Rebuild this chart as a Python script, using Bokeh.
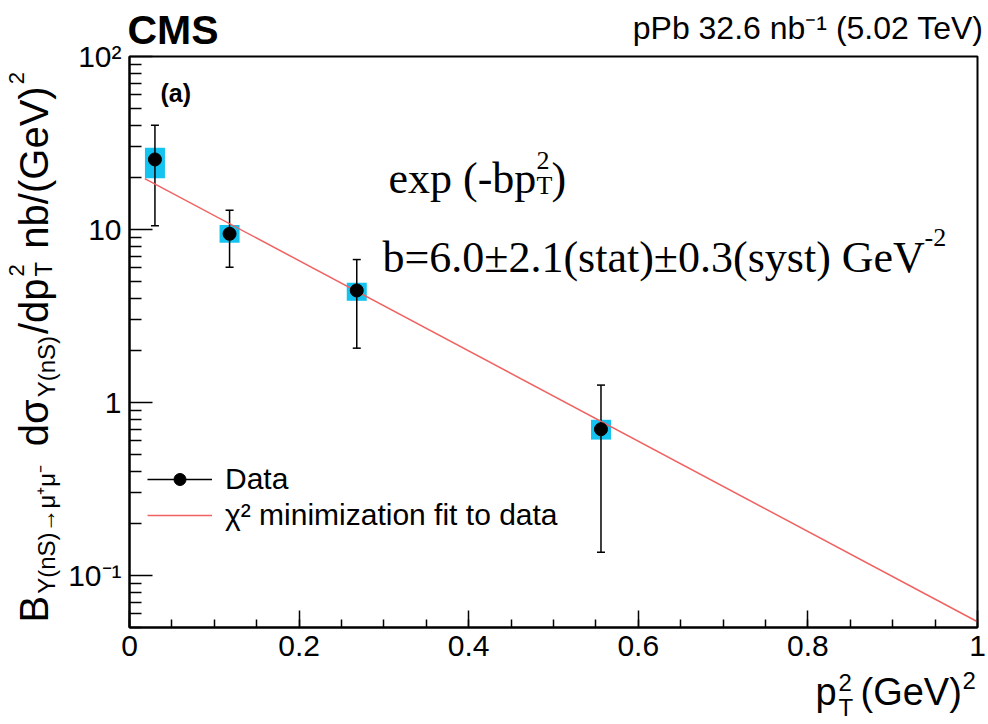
import math
from bokeh.plotting import figure
from bokeh.models import (Range1d, FixedTicker, Label, Legend, LegendItem,
                          CustomJSTickFormatter)
from bokeh.core.properties import value
from bokeh.embed import file_html
from bokeh.resources import INLINE

# ---------------- data ----------------
pt2 = [0.03, 0.118, 0.268, 0.556]            # p_T^2 (GeV^2)
xsec = [25.4, 9.44, 4.44, 0.70]             # cross section
stat_hi = [40.0, 12.9, 6.7, 1.26]
stat_lo = [10.5, 6.05, 2.06, 0.136]
syst_hi = [29.7, 10.6, 4.92, 0.794]
syst_lo = [19.8, 8.37, 3.87, 0.61]
fit_x = [0.018, 1.0]                          # exponential fit -> straight on log axis
fit_y = [19.7, 0.054]
x_ticks = [0.0, 0.2, 0.4, 0.6, 0.8, 1.0]
x_tick_labels = ["0", "0.2", "0.4", "0.6", "0.8", "1"]
y_ticks = [0.1, 1.0, 10.0, 100.0]
y_tick_labels = ["10⁻¹", "1", "10", "10²"]

# ---------------- figure ----------------
FL, FR, FT, FB = 129, 977, 56, 627   # frame edges on the canvas
W, H = 988, 724

p = figure(width=W, height=H, output_backend="svg", toolbar_location=None,
           y_axis_type="log", x_range=Range1d(0, 1), y_range=Range1d(0.05, 100),
           min_border_left=FL, min_border_right=W - FR,
           min_border_top=FT, min_border_bottom=H - FB)
p.background_fill_color = "white"
p.border_fill_color = "white"
p.outline_line_color = "black"
p.outline_line_width = 2
p.xgrid.visible = False
p.ygrid.visible = False

x_minor = [i * 0.05 for i in range(21)]
y_minor = [k * 10.0 ** e for e in range(-2, 2) for k in range(2, 10)]

p.xaxis.ticker = FixedTicker(ticks=x_ticks, minor_ticks=x_minor)
p.yaxis.ticker = FixedTicker(ticks=y_ticks, minor_ticks=y_minor)
p.xaxis.formatter = CustomJSTickFormatter(args=dict(t=x_ticks, l=x_tick_labels), code="""
for (let i = 0; i < t.length; i++) { if (Math.abs(tick - t[i]) < 1e-9) return l[i]; }
return '';""")
p.yaxis.formatter = CustomJSTickFormatter(args=dict(t=y_ticks, l=y_tick_labels), code="""
for (let i = 0; i < t.length; i++) { if (Math.abs(Math.log10(tick) - Math.log10(t[i])) < 1e-6) return l[i]; }
return '';""")

for ax in (p.xaxis[0], p.yaxis[0]):
    ax.axis_line_color = "black"
    ax.axis_line_width = 2
    ax.major_tick_line_color = "black"
    ax.minor_tick_line_color = "black"
    ax.major_tick_line_width = 1.5
    ax.minor_tick_line_width = 1.5
    ax.major_tick_out = 0
    ax.minor_tick_out = 0
    ax.major_label_text_font = "Liberation Sans"
    ax.major_label_text_font_size = "30px"
    ax.major_label_text_color = "black"
p.xaxis.major_tick_in = 17
p.xaxis.minor_tick_in = 8
p.xaxis.major_label_standoff = 8
p.yaxis.major_tick_in = 23
p.yaxis.minor_tick_in = 12
p.yaxis.major_label_standoff = 8

# ---------------- glyphs ----------------
p.vbar(x=pt2, width=0.0236, top=syst_hi, bottom=syst_lo,
       fill_color="#14C3F0", line_color=None)
err_r = p.segment(x0=pt2, y0=stat_lo, x1=pt2, y1=stat_hi, line_color="black", line_width=1.5)
p.scatter(pt2, stat_hi, marker="dash", size=8, line_color="black", line_width=1.5)
p.scatter(pt2, stat_lo, marker="dash", size=8, line_color="black", line_width=1.5)
fit_r = p.line(fit_x, fit_y, line_color="#F06262", line_width=1.5)
data_r = p.scatter(pt2, xsec, size=13, fill_color="black", line_color="black")

legend = Legend(items=[LegendItem(label="Data", renderers=[err_r, data_r]),
                       LegendItem(label="χ² minimization fit to data", renderers=[fit_r])],
                location=(18, 95), orientation="vertical",
                glyph_width=65, glyph_height=30, label_height=30, label_standoff=13,
                spacing=2, padding=0, margin=0,
                label_text_font="Liberation Sans", label_text_font_size="30px",
                label_text_color="black",
                border_line_alpha=0, background_fill_alpha=0)
p.add_layout(legend)


# ---------------- texts ----------------
def lab(text, X, Y, size, font="Liberation Sans", style="normal", angle=0.0, align="left"):
    """Label inside the frame, placed in canvas pixels (Y = baseline)."""
    p.add_layout(Label(x=X - FL, y=FB - Y, x_units="screen", y_units="screen",
                       text=text, text_font=font, text_font_size=f"{size}px",
                       text_font_style=style, text_color="black",
                       angle=angle, text_align=align, text_baseline="alphabetic"))


def txt(text, X, Y, size, font="Liberation Sans", style="normal", angle=0.0, align="left"):
    """Text outside the frame, anchored at the frame's bottom-left corner and shifted in
    pixels. (X, Y) is the baseline point; the text box middle lies 0.36*size above it."""
    shift = 0.36 * size
    if angle == 0.0:
        Y = Y - shift
    else:
        X = X - shift
    p.text(x=[p.x_range.start], y=[p.y_range.start], text=[text],
           x_offset=X - FL, y_offset=Y - FB, angle=angle,
           text_font=value(font), text_font_size=value(f"{size}px"),
           text_font_style=value(style), text_color="black",
           text_align=value(align), text_baseline=value("middle"),
           level="overlay")


txt("CMS", 127, 44, 41, style="bold")
txt("pPb 32.6 nb⁻¹ (5.02 TeV)", 983, 39, 32, align="right")
lab("(a)", 160, 92, 25, style="bold")

# fit annotation (serif)
lab("exp (-bp", 388, 178, 44, font="Liberation Serif")
lab("2", 536, 160, 26, font="Liberation Serif")
lab("T", 536, 185, 26, font="Liberation Serif")
lab(")", 551, 178, 44, font="Liberation Serif")
lab("b=6.0±2.1(stat)±0.3(syst) GeV", 382, 257, 44, font="Liberation Serif")
lab("-2", 924, 237, 26, font="Liberation Serif")

# x axis title
txt("p", 815, 705, 38)
txt("2", 838, 691, 24)
txt("T", 838, 716, 24)
txt("(GeV)", 860, 705, 38)
txt("2", 962, 689, 24)

# y axis title (rotated, reads bottom to top); pieces laid end to end
A = math.pi / 2
F_MAIN, F_SUB, F_SUP = 40, 24, 22
X_MAIN, X_SUB, X_SUP = 48, 55, 24
SPACE = 0.278
pieces = [  # text, kind, leading space?, advance in em
    ("B", "main", False, 0.667),
    ("Υ(nS)→μ⁺μ⁻", "sub", False, 5.606),
    ("dσ", "main", True, 1.17),
    ("Υ(nS)", "sub", False, 2.556),
    ("/dp", "main", False, 1.39),
    ("2|T", "supsub", False, 0.611),
    ("nb/(GeV)", "main", True, 4.057),
    ("2", "sup", False, 0.556),
]
Ypos = 622.0
for text, kind, lead, adv in pieces:
    if lead:
        Ypos -= SPACE * F_MAIN
    if kind == "main":
        txt(text, X_MAIN, Ypos, F_MAIN, angle=A)
        Ypos -= adv * F_MAIN
    elif kind == "sub":
        txt(text, X_SUB, Ypos, F_SUB, angle=A)
        Ypos -= adv * F_SUB
    elif kind == "sup":
        txt(text, X_SUP, Ypos, F_SUP, angle=A)
        Ypos -= adv * F_SUP
    else:
        sup_t, sub_t = text.split("|")
        txt(sup_t, X_SUP, Ypos, F_SUP, angle=A)
        txt(sub_t, X_SUB - 3, Ypos, F_SUB, angle=A)
        Ypos -= adv * F_SUB
    Ypos -= 2

open("out.html", "w").write(file_html(p, INLINE))
